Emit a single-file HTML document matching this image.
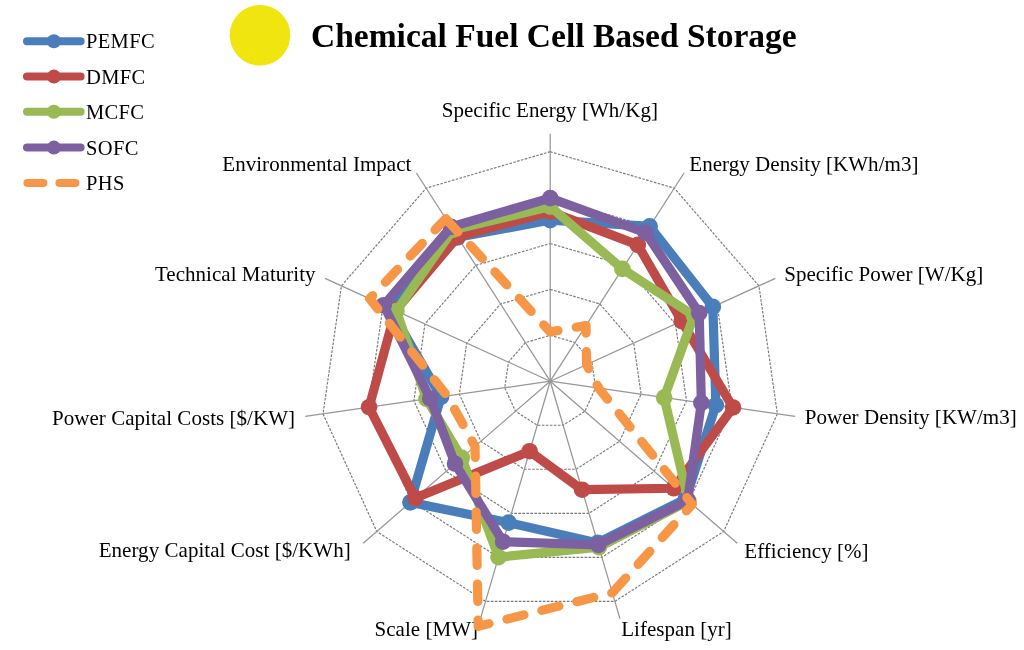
<!DOCTYPE html>
<html><head><meta charset="utf-8"><style>
html,body{margin:0;padding:0;background:#fff;}
body{width:1024px;height:650px;overflow:hidden;position:relative;}
svg{position:absolute;left:0;top:0;will-change:transform;}
text{font-variant-ligatures:none;}

.lab text{font-family:"Liberation Serif",serif;font-size:21px;letter-spacing:0.04px;fill:#000;}
.leg text{font-family:"Liberation Serif",serif;font-size:20.5px;letter-spacing:0.35px;fill:#000;}
.title{font-family:"Liberation Serif",serif;font-weight:bold;font-size:33.5px;fill:#000;}
</style></head><body>
<svg width="1024" height="650" viewBox="0 0 1024 650">
<circle cx="260" cy="35.2" r="30.3" fill="#F0E50F"/>
<text class="title" x="311" y="46.8">Chemical Fuel Cell Based Storage</text>
<g class="leg">
<line x1="27" y1="41.2" x2="80.6" y2="41.2" stroke="#4A7EBB" stroke-width="8" stroke-linecap="round"/>
<circle cx="53.9" cy="41.2" r="7" fill="#4A7EBB"/>
<text x="86" y="48.4">PEMFC</text>
<line x1="27" y1="76.6" x2="80.6" y2="76.6" stroke="#BE4B48" stroke-width="8" stroke-linecap="round"/>
<circle cx="53.9" cy="76.6" r="7" fill="#BE4B48"/>
<text x="86" y="83.8">DMFC</text>
<line x1="27" y1="111.8" x2="80.6" y2="111.8" stroke="#98B954" stroke-width="8" stroke-linecap="round"/>
<circle cx="53.9" cy="111.8" r="7" fill="#98B954"/>
<text x="86" y="119.0">MCFC</text>
<line x1="27" y1="147.6" x2="80.6" y2="147.6" stroke="#7D60A0" stroke-width="8" stroke-linecap="round"/>
<circle cx="53.9" cy="147.6" r="7" fill="#7D60A0"/>
<text x="86" y="154.8">SOFC</text>
<line x1="27.4" y1="183" x2="75.6" y2="183" stroke="#F79646" stroke-width="8" stroke-linecap="round" stroke-dasharray="16 16"/>
<text x="86" y="190.2">PHS</text>
</g>
<polygon points="550.20,335.30 575.02,342.59 591.95,362.13 595.63,387.73 584.89,411.26 563.13,425.24 537.27,425.24 515.51,411.26 504.77,387.73 508.45,362.13 525.38,342.59" fill="none" stroke="#787878" stroke-width="1.15" stroke-dasharray="2.6 1.4"/>
<polygon points="550.20,289.40 599.83,303.97 633.70,343.06 641.07,394.26 619.58,441.32 576.06,469.28 524.34,469.28 480.82,441.32 459.33,394.26 466.70,343.06 500.57,303.97" fill="none" stroke="#787878" stroke-width="1.15" stroke-dasharray="2.6 1.4"/>
<polygon points="550.20,243.50 624.65,265.36 675.46,324.00 686.50,400.80 654.27,471.37 588.99,513.32 511.41,513.32 446.13,471.37 413.90,400.80 424.94,324.00 475.75,265.36" fill="none" stroke="#787878" stroke-width="1.15" stroke-dasharray="2.6 1.4"/>
<polygon points="550.20,197.60 649.46,226.75 717.21,304.93 731.93,407.33 688.96,501.43 601.93,557.36 498.47,557.36 411.44,501.43 368.47,407.33 383.19,304.93 450.94,226.75" fill="none" stroke="#787878" stroke-width="1.15" stroke-dasharray="2.6 1.4"/>
<polygon points="550.20,151.70 674.28,188.13 758.96,285.86 777.36,413.86 723.64,531.49 614.86,601.40 485.54,601.40 376.76,531.49 323.04,413.86 341.44,285.86 426.12,188.13" fill="none" stroke="#787878" stroke-width="1.15" stroke-dasharray="2.6 1.4"/>
<line x1="550.2" y1="381.2" x2="550.20" y2="133.70" stroke="#969696" stroke-width="1.25"/>
<line x1="550.2" y1="381.2" x2="684.01" y2="172.99" stroke="#969696" stroke-width="1.25"/>
<line x1="550.2" y1="381.2" x2="775.33" y2="278.38" stroke="#969696" stroke-width="1.25"/>
<line x1="550.2" y1="381.2" x2="795.18" y2="416.42" stroke="#969696" stroke-width="1.25"/>
<line x1="550.2" y1="381.2" x2="737.25" y2="543.28" stroke="#969696" stroke-width="1.25"/>
<line x1="550.2" y1="381.2" x2="619.93" y2="618.67" stroke="#969696" stroke-width="1.25"/>
<line x1="550.2" y1="381.2" x2="480.47" y2="618.67" stroke="#969696" stroke-width="1.25"/>
<line x1="550.2" y1="381.2" x2="363.15" y2="543.28" stroke="#969696" stroke-width="1.25"/>
<line x1="550.2" y1="381.2" x2="305.22" y2="416.42" stroke="#969696" stroke-width="1.25"/>
<line x1="550.2" y1="381.2" x2="325.07" y2="278.38" stroke="#969696" stroke-width="1.25"/>
<line x1="550.2" y1="381.2" x2="416.39" y2="172.99" stroke="#969696" stroke-width="1.25"/>
<g class="lab">
<text x="441.7" y="117.3">Specific Energy [Wh/Kg]</text>
<text x="689.3" y="170.6">Energy Density [KWh/m3]</text>
<text x="784.2" y="280.6">Specific Power [W/Kg]</text>
<text x="804.8" y="424.4">Power Density [KW/m3]</text>
<text x="744.3" y="557.8">Efficiency [%]</text>
<text x="621.2" y="636.4">Lifespan [yr]</text>
<text x="374.5" y="636.0">Scale [MW]</text>
<text x="98.7" y="557.3">Energy Capital Cost [$/KWh]</text>
<text x="52.0" y="424.6">Power Capital Costs [$/KW]</text>
<text x="154.9" y="281.0">Technical Maturity</text>
<text x="222.3" y="170.8">Environmental Impact</text>
</g>
<polygon points="550.20,220.10 649.68,226.41 712.84,306.92 715.90,405.02 685.86,498.75 597.67,542.87 508.67,522.63 410.39,502.35 441.02,396.90 389.20,307.67 457.75,237.35" fill="none" stroke="#4A7EBB" stroke-width="9.2" stroke-linejoin="round"/>
<circle cx="550.20" cy="220.10" r="8.3" fill="#4A7EBB"/>
<circle cx="649.68" cy="226.41" r="8.3" fill="#4A7EBB"/>
<circle cx="712.84" cy="306.92" r="8.3" fill="#4A7EBB"/>
<circle cx="715.90" cy="405.02" r="8.3" fill="#4A7EBB"/>
<circle cx="685.86" cy="498.75" r="8.3" fill="#4A7EBB"/>
<circle cx="597.67" cy="542.87" r="8.3" fill="#4A7EBB"/>
<circle cx="508.67" cy="522.63" r="8.3" fill="#4A7EBB"/>
<circle cx="410.39" cy="502.35" r="8.3" fill="#4A7EBB"/>
<circle cx="441.02" cy="396.90" r="8.3" fill="#4A7EBB"/>
<circle cx="389.20" cy="307.67" r="8.3" fill="#4A7EBB"/>
<circle cx="457.75" cy="237.35" r="8.3" fill="#4A7EBB"/>
<polygon points="550.20,211.60 637.78,244.92 681.73,321.13 733.02,407.49 673.77,488.27 582.06,489.72 529.63,451.24 415.30,498.09 369.06,407.24 395.56,310.58 457.48,236.93" fill="none" stroke="#BE4B48" stroke-width="9.2" stroke-linejoin="round"/>
<circle cx="550.20" cy="211.60" r="8.3" fill="#BE4B48"/>
<circle cx="637.78" cy="244.92" r="8.3" fill="#BE4B48"/>
<circle cx="681.73" cy="321.13" r="8.3" fill="#BE4B48"/>
<circle cx="733.02" cy="407.49" r="8.3" fill="#BE4B48"/>
<circle cx="673.77" cy="488.27" r="8.3" fill="#BE4B48"/>
<circle cx="582.06" cy="489.72" r="8.3" fill="#BE4B48"/>
<circle cx="529.63" cy="451.24" r="8.3" fill="#BE4B48"/>
<circle cx="415.30" cy="498.09" r="8.3" fill="#BE4B48"/>
<circle cx="369.06" cy="407.24" r="8.3" fill="#BE4B48"/>
<circle cx="395.56" cy="310.58" r="8.3" fill="#BE4B48"/>
<circle cx="457.48" cy="236.93" r="8.3" fill="#BE4B48"/>
<polygon points="550.20,206.60 622.38,268.89 693.92,315.56 664.13,397.58 688.50,501.04 598.94,547.19 498.53,557.17 461.78,457.82 426.47,398.99 396.47,310.99 452.88,229.77" fill="none" stroke="#98B954" stroke-width="9.2" stroke-linejoin="round"/>
<circle cx="550.20" cy="206.60" r="8.3" fill="#98B954"/>
<circle cx="622.38" cy="268.89" r="8.3" fill="#98B954"/>
<circle cx="693.92" cy="315.56" r="8.3" fill="#98B954"/>
<circle cx="664.13" cy="397.58" r="8.3" fill="#98B954"/>
<circle cx="688.50" cy="501.04" r="8.3" fill="#98B954"/>
<circle cx="598.94" cy="547.19" r="8.3" fill="#98B954"/>
<circle cx="498.53" cy="557.17" r="8.3" fill="#98B954"/>
<circle cx="461.78" cy="457.82" r="8.3" fill="#98B954"/>
<circle cx="426.47" cy="398.99" r="8.3" fill="#98B954"/>
<circle cx="396.47" cy="310.99" r="8.3" fill="#98B954"/>
<circle cx="452.88" cy="229.77" r="8.3" fill="#98B954"/>
<polygon points="550.20,198.10 645.62,232.72 699.20,313.16 701.35,402.93 687.67,500.32 598.26,544.89 503.07,541.72 454.98,463.71 430.23,398.45 383.74,305.18 451.05,226.91" fill="none" stroke="#7D60A0" stroke-width="9.2" stroke-linejoin="round"/>
<circle cx="550.20" cy="198.10" r="8.3" fill="#7D60A0"/>
<circle cx="645.62" cy="232.72" r="8.3" fill="#7D60A0"/>
<circle cx="699.20" cy="313.16" r="8.3" fill="#7D60A0"/>
<circle cx="701.35" cy="402.93" r="8.3" fill="#7D60A0"/>
<circle cx="687.67" cy="500.32" r="8.3" fill="#7D60A0"/>
<circle cx="598.26" cy="544.89" r="8.3" fill="#7D60A0"/>
<circle cx="503.07" cy="541.72" r="8.3" fill="#7D60A0"/>
<circle cx="454.98" cy="463.71" r="8.3" fill="#7D60A0"/>
<circle cx="430.23" cy="398.45" r="8.3" fill="#7D60A0"/>
<circle cx="383.74" cy="305.18" r="8.3" fill="#7D60A0"/>
<circle cx="451.05" cy="226.91" r="8.3" fill="#7D60A0"/>
<path d="M445.75,218.67 L550.20,331.90 L585.99,325.51 L586.59,364.58 L598.70,388.17 L692.28,504.31 L612.32,592.77" fill="none" stroke="#F79646" stroke-width="9.2" stroke-linecap="round" stroke-linejoin="round" stroke-dasharray="17.5 18.5" stroke-dashoffset="-0.50"/>
<path d="M612.32,592.77 L478.22,626.35 L475.00,446.36 L447.26,396.00 L369.64,298.74 L445.75,218.67" fill="none" stroke="#F79646" stroke-width="9.2" stroke-linecap="round" stroke-linejoin="round" stroke-dasharray="17.5 18.5" stroke-dashoffset="16.89"/>
</svg>
</body></html>
